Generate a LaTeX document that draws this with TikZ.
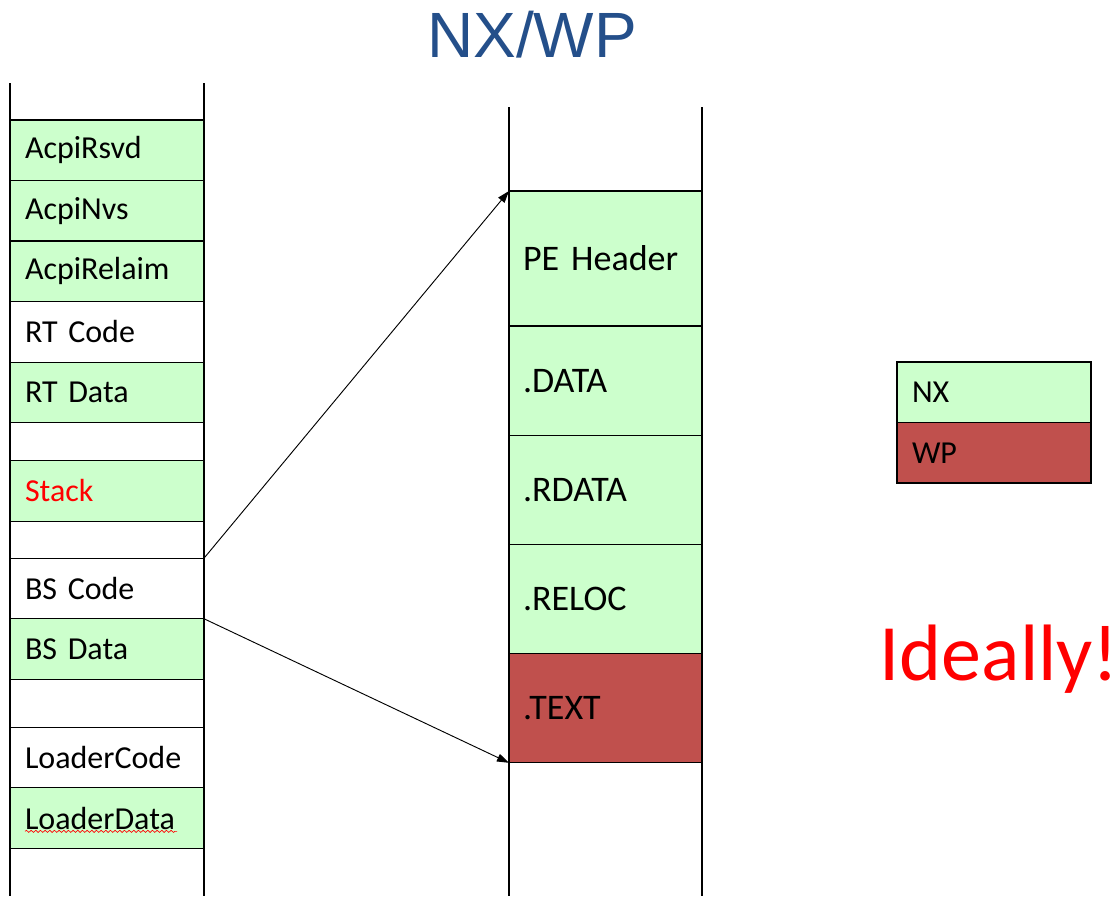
\documentclass[tikz,border=0pt]{standalone}
\usepackage{fontspec}
\setmainfont[WordSpace=0.8]{Carlito}
\newfontfamily\titlefont{Liberation Sans}
\usetikzlibrary{arrows.meta,positioning,decorations.pathmorphing}
\definecolor{nxgreen}{RGB}{204,255,204}
\definecolor{wpred}{RGB}{192,80,77}
\definecolor{titleblue}{RGB}{36,79,138}
\tikzset{
memblock/.style={draw,line width=.9pt,fill=nxgreen,outer sep=0pt,inner xsep=11.25pt,inner ysep=0pt,text width=123pt,align=left,minimum height=45.4pt,font=\fontsize{24}{28}\selectfont},
codeblock/.style={memblock,fill=white},
secblock/.style={draw,line width=.9pt,fill=nxgreen,outer sep=0pt,inner xsep=10.5pt,inner ysep=0pt,text width=123.75pt,align=left,minimum height=81.9pt,font=\fontsize{27}{32}\selectfont},
wpblock/.style={secblock,fill=wpred},
wall/.style={line width=.9pt},
arrow/.style={-{Triangle[length=9pt,width=6pt]},line width=.7pt}
}

\begin{document}
\begin{tikzpicture}[x=.75pt,y=-.75pt]
\useasboundingbox (0,0) rectangle (1119,896);

\node[text=titleblue,font=\titlefont\fontsize{48}{48}\selectfont] (title) at (532,35) {NX/WP};

% left column
\draw[wall] (10,83) -- (10,896);
\draw[wall] (204,83) -- (204,896);
\node[memblock,anchor=north west] (rsvd) at (10,120) {AcpiRsvd};
\node[memblock,below=0pt of rsvd] (nvs) {AcpiNvs};
\node[memblock,below=0pt of nvs] (relaim) {AcpiRelaim};
\node[codeblock,below=0pt of relaim] (rtcode) {RT Code};
\node[memblock,below=0pt of rtcode] (rtdata) {RT Data};
\node[memblock,text=red,below=28.5pt of rtdata] (stack) {Stack};
\node[codeblock,below=27.75pt of stack] (bscode) {BS Code};
\node[memblock,below=0pt of bscode] (bsdata) {BS Data};
\node[codeblock,below=36pt of bsdata] (ldcode) {LoaderCode};
\node[memblock,below=0pt of ldcode] (lddata) {LoaderData};
\draw[red,line width=.5pt,decorate,decoration={snake,amplitude=.8pt,segment length=3.5pt}]
  ([shift={(15,-17)}]lddata.south west) -- ([shift={(167,-17)}]lddata.south west);

% image sections
\draw[wall] (509,107) -- (509,896);
\draw[wall] (702,107) -- (702,896);
\node[secblock,minimum height=101.25pt,anchor=north west] (pehdr) at (509,191) {PE Header};
\node[secblock,below=0pt of pehdr] (data) {.DATA};
\node[secblock,below=0pt of data] (rdata) {.RDATA};
\node[secblock,below=0pt of rdata] (reloc) {.RELOC};
\node[wpblock,below=0pt of reloc] (text) {.TEXT};

\draw[arrow] (bscode.north east) -- (pehdr.north west);
\draw[arrow] (bsdata.north east) -- (text.south west);

% legend
\node[memblock,anchor=north west] (nx) at (897,362) {NX};
\node[memblock,fill=wpred,below=0pt of nx] (wp) {WP};

\node[text=red,font=\fontsize{60}{60}\selectfont,anchor=base west] (ideal) at (875,680) {Ideally!};
\end{tikzpicture}
\end{document}
